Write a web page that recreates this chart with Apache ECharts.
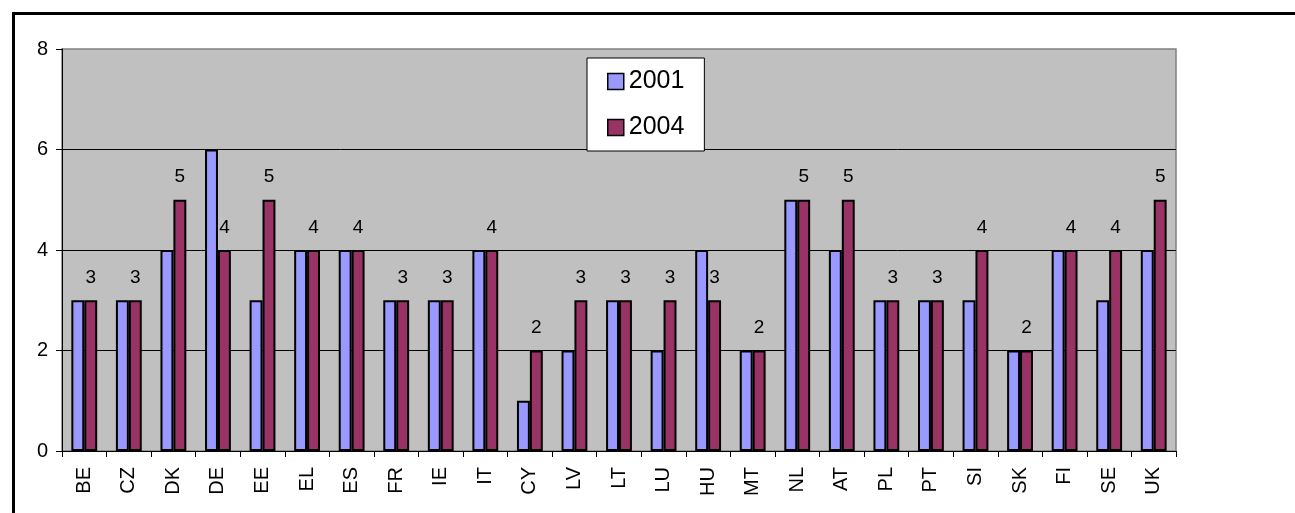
<!DOCTYPE html>
<html>
<head>
<meta charset="utf-8">
<script src="https://cdn.jsdelivr.net/npm/echarts@6/dist/echarts.min.js"></script>
<style>
html,body{margin:0;padding:0;background:#fff;}
#chart{width:1295px;height:513px;}
</style>
</head>
<body>
<div id="chart"></div>
<script>
const categories = ['BE','CZ','DK','DE','EE','EL','ES','FR','IE','IT','CY','LV','LT','LU','HU','MT','NL','AT','PL','PT','SI','SK','FI','SE','UK'];
const values2001 = [3,3,4,6,3,4,4,3,3,4,1,2,3,2,4,2,5,4,3,3,3,2,4,3,4];
const values2004 = [3,3,5,4,5,4,4,3,3,4,2,3,3,3,3,2,5,5,3,3,4,2,4,4,5];
const seriesNames = ['2001','2004'];
const yTicks = [0,2,4,6,8];

const FONT = 'Liberation Sans, Arial, sans-serif';
const chart = echarts.init(document.getElementById('chart'), null, {renderer:'canvas'});
chart.setOption({
  backgroundColor:'#ffffff',
  animation:false,
  graphic:[{
    type:'rect', left:11, top:11, silent:true, z:100,
    shape:{x:0,y:0,width:1310,height:530},
    style:{fill:'none',stroke:'#000',lineWidth:3}
  }],
  grid:{left:62,right:119,top:49,bottom:62,show:true,backgroundColor:'#c0c0c0',borderColor:'#808080',borderWidth:1.5},
  legend:{
    orient:'vertical', left:587, top:58,
    padding:[11,20,11,20], itemGap:21, itemWidth:16, itemHeight:16, itemTextGap:7,
    backgroundColor:'#fff', borderColor:'#000', borderWidth:1,
    textStyle:{fontFamily:FONT,fontSize:25,color:'#000'},
    data:seriesNames.map(n=>({name:n,icon:'rect'})),
    itemStyle:{borderColor:'#000',borderWidth:1.5}
  },
  xAxis:{
    type:'category', data:categories,
    axisLine:{lineStyle:{color:'#000',width:1}},
    axisTick:{show:true,length:6,lineStyle:{color:'#000'}},
    axisLabel:{interval:0,rotate:90,margin:16,fontFamily:FONT,fontSize:20,color:'#000'}
  },
  yAxis:{
    type:'value', min:yTicks[0], max:yTicks[yTicks.length-1], interval:2,
    axisLine:{show:true,lineStyle:{color:'#000',width:1}},
    axisTick:{show:true,length:6,lineStyle:{color:'#000'}},
    axisLabel:{margin:14,fontFamily:FONT,fontSize:20,color:'#000'},
    splitLine:{show:true,showMaxLine:false,lineStyle:{color:'#000',width:1}}
  },
  series:[
    {name:seriesNames[0],type:'bar',data:values2001,barGap:'0%',barCategoryGap:'42%',
     itemStyle:{color:'#9999ff',borderColor:'#000',borderWidth:2}},
    {name:seriesNames[1],type:'bar',data:values2004,barGap:'0%',barCategoryGap:'42%',
     itemStyle:{color:'#993366',borderColor:'#000',borderWidth:2},
     label:{show:true,position:'top',distance:13,fontFamily:FONT,fontSize:19,color:'#000'}}
  ]
});
</script>
</body>
</html>
